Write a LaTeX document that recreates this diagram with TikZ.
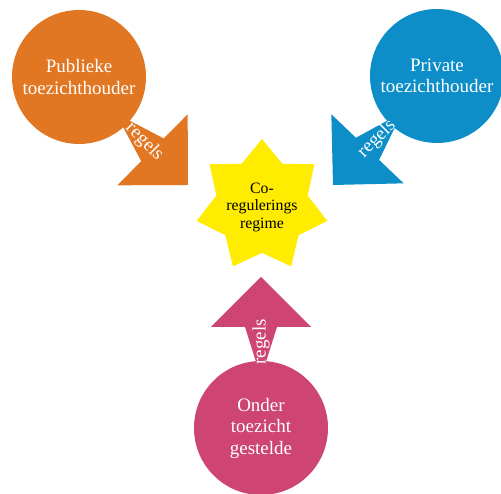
\documentclass[tikz,border=0pt]{standalone}
\usepackage{fontspec}
\setmainfont{Liberation Serif}
\usetikzlibrary{calc,shapes.geometric}
\definecolor{pubcol}{RGB}{226,119,35}
\definecolor{privcol}{RGB}{13,142,200}
\definecolor{ondcol}{RGB}{206,68,114}
\definecolor{starcol}{RGB}{255,236,0}
\pgfdeclarelayer{paper}
\pgfdeclarelayer{arrows}
\pgfsetlayers{paper,arrows,main}
\tikzset{
  party/.style={circle, inner sep=0pt, minimum size=134pt, text=white,
    align=center, font=\fontsize{19}{21.5}\selectfont},
  rulelabel/.style={text=white, inner sep=0pt, font=\fontsize{19}{21}\selectfont},
  regime/.style={star, star points=7, star point ratio=1.43,
    minimum size=134pt, inner sep=0pt, fill=starcol},
}
% broad arrow from a circle centre to a tip: shaft 32pt wide, head 100pt wide, 50pt long
\newcommand{\broadarrow}[3]{%
  \fill[#3] ($(#1)!16pt!90:(#2)$)
    -- ($($(#2)!50pt!(#1)$)!16pt!-90:(#2)$)
    -- ($($(#2)!50pt!(#1)$)!50pt!-90:(#2)$)
    -- (#2)
    -- ($($(#2)!50pt!(#1)$)!50pt!90:(#2)$)
    -- ($($(#2)!50pt!(#1)$)!16pt!90:(#2)$)
    -- ($(#1)!16pt!-90:(#2)$) -- cycle;}
\begin{document}
\begin{tikzpicture}[x=1pt,y=1pt]
  \useasboundingbox (0,0) rectangle (501,494);
  \begin{pgfonlayer}{paper}
    \fill[white] (0,0) rectangle (501,494);
  \end{pgfonlayer}

  % the three parties
  \node[party, fill=pubcol] (pub) at (79,417) {Publieke\\toezichthouder};
  \node[party, fill=privcol] (priv) at (437,418) {Private\\toezichthouder};
  \node[party, fill=ondcol] (ond) at (261,66) {Onder\\toezicht\\gestelde};

  % the co-regulation regime
  \node[regime] (star) at (262,288) {};
  \node[align=center, font=\fontsize{15.8}{17.5}\selectfont, inner sep=0pt]
    (startext) at ($(star.center)+(0,-1)$) {Co-\\regulerings\\regime};

  % arrow tips
  \coordinate (tpub) at (188,309);
  \coordinate (tpriv) at (333,309);
  \coordinate (tond) at (261,217);

  \begin{pgfonlayer}{arrows}
    \broadarrow{pub.center}{tpub}{pubcol}
    \broadarrow{priv.center}{tpriv}{privcol}
    \broadarrow{ond.center}{tond}{ondcol}
  \end{pgfonlayer}

  % arrow labels
  \node[rulelabel, rotate=-45] (lpub) at ($(pub.center)!92pt!(tpub)$) {regels};
  \node[rulelabel, rotate=45] (lpriv) at ($(priv.center)!87pt!(tpriv)$) {regels};
  \node[rulelabel, rotate=90] (lond) at ($(ond.center)!86pt!(tond)$) {regels};
\end{tikzpicture}
\end{document}
